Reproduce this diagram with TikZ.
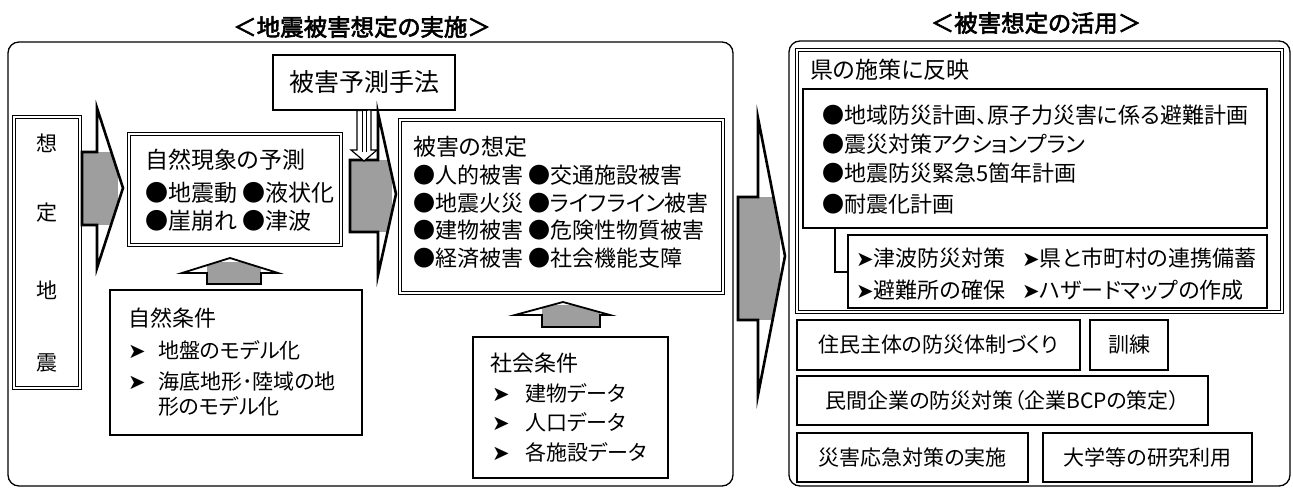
\documentclass[tikz,border=0pt]{standalone}
\usepackage{fontspec}
\setmainfont[RawFeature=+palt]{Noto Sans CJK JP}
\newfontfamily\jpbold[FakeBold=2.5,RawFeature=+palt]{Noto Sans CJK JP}
\newfontfamily\symfont{DejaVu Sans}
\newcommand{\arr}{{\symfont\fontsize{21}{21}\selectfont ➤}}
\tikzset{
  frame/.style={draw, line width=1.3pt, rounded corners=11pt, inner sep=0pt},
  box/.style={draw, line width=1.3pt, inner sep=0pt, fill=white},
  dbox/.style={draw, line width=1pt, double, double distance=2.6pt, inner sep=0pt},
  txt/.style={anchor=west, inner sep=0pt},
  title/.style={inner sep=0pt, font=\jpbold\fontsize{23.5}{27}\selectfont},
  fa/.style={font=\fontsize{23}{27}\selectfont},
  fh/.style={font=\fontsize{22}{26}\selectfont},
  fb/.style={font=\fontsize{22}{26}\selectfont},
  fc/.style={font=\fontsize{21}{25}\selectfont},
  fd/.style={font=\fontsize{21}{24}\selectfont},
  barrow/.style={draw, line width=2.6pt, line join=miter, miter limit=20},
  shade/.style={fill=black!38},
}
\begin{document}
\begin{tikzpicture}[x=1pt,y=-1pt]
\useasboundingbox (0,0) rectangle (1293,489);
\fill[white] (0,0) rectangle (1293,489);

% ---------- titles ----------
\node[title] (t1) at (362,27) {＜地震被害想定の実施＞};
\node[title] (t2) at (1036,23) {＜被害想定の活用＞};

% ---------- left frame ----------
\node[frame, minimum width=725pt, minimum height=444pt] (leftframe) at (370.5,264) {};

% 想定地震
\node[dbox, minimum width=66pt, minimum height=271pt] (soutei) at (47,252.5) {};
\node[fc, inner sep=0pt] (c1) at (47,143) {想};
\node[fc, inner sep=0pt] (c2) at (47,213) {定};
\node[fc, inner sep=0pt] (c3) at (47,290) {地};
\node[fc, inner sep=0pt] (c4) at (47,363) {震};

% 被害予測手法
\node[box, minimum width=182pt, minimum height=55pt, font=\fontsize{25}{29}\selectfont] (method) at (364,82.5) {被害予測手法};

% 自然現象の予測
\node[dbox, minimum width=212pt, minimum height=111pt] (shizen) at (235,189.5) {};
\node[fa,txt] (s1) at (145,160) {自然現象の予測};
\node[fa,txt] (s2) at (145,193) {●地震動 ●液状化};
\node[fa,txt] (s3) at (145,221) {●崖崩れ ●津波};

% 被害の想定
\node[dbox, minimum width=323pt, minimum height=173pt] (higai) at (561.5,206.5) {};
\node[fa,txt] (h0) at (413,147) {被害の想定};
\node[fh,txt] (h1) at (413,175) {●人的被害 ●交通施設被害};
\node[fh,txt] (h2) at (413,203) {●地震火災 ●ライフライン被害};
\node[fh,txt] (h3) at (413,230) {●建物被害 ●危険性物質被害};
\node[fh,txt] (h4) at (413,258) {●経済被害 ●社会機能支障};

% 自然条件
\node[box, minimum width=252pt, minimum height=145pt] (joken) at (236,362.5) {};
\node[fb,txt] (j0) at (128,318) {自然条件};
\node[fc,txt] (j1) at (128,350) {\makebox[30pt][l]{\arr}地盤のモデル化};
\node[fc,txt] (j2) at (128,382) {\makebox[30pt][l]{\arr}海底地形･陸域の地};
\node[fc,txt] (j3) at (158,406) {形のモデル化};

% 社会条件
\node[box, minimum width=195pt, minimum height=141pt] (shakai) at (570.5,407.5) {};
\node[fb,txt] (k0) at (490,363) {社会条件};
\node[fc,txt] (k1) at (492,393) {\makebox[33pt][l]{\arr}建物データ};
\node[fc,txt] (k2) at (492,422) {\makebox[33pt][l]{\arr}人口データ};
\node[fc,txt] (k3) at (492,452) {\makebox[33pt][l]{\arr}各施設データ};

% ---------- block arrows ----------
\def\pathA{(82,152)--(97,152)--(97,108)--(123,188)--(97,268)--(97,225)--(82,225)--cycle}
\fill[white] \pathA;
\begin{scope}\clip \pathA; \fill[shade] (82,152) rectangle (118,225); \end{scope}
\draw[barrow] \pathA;

\def\pathB{(350,160)--(378,160)--(378,113)--(396,194)--(378,275)--(378,232)--(350,232)--cycle}
\fill[white] \pathB;
\begin{scope}\clip \pathB; \fill[shade] (350,160) rectangle (392,232); \end{scope}
\draw[barrow] \pathB;

\def\pathC{(738,197)--(758,197)--(758,118)--(785,256)--(758,395)--(758,320)--(738,320)--cycle}
\fill[white] \pathC;
\begin{scope}\clip \pathC; \fill[shade] (738,197) rectangle (780,320); \end{scope}
\draw[barrow] \pathC;

\def\pathD{(207,284)--(207,273)--(182,273)--(230,258)--(278,273)--(261,273)--(261,284)--cycle}
\fill[white] \pathD;
\begin{scope}\clip \pathD; \fill[shade] (207,262) rectangle (261,284); \end{scope}
\draw[barrow, line width=1.8pt] \pathD;

\def\pathE{(542,327)--(542,315)--(515,315)--(563,302)--(610,315)--(600,315)--(600,327)--cycle}
\fill[white] \pathE;
\begin{scope}\clip \pathE; \fill[shade] (542,305) rectangle (600,327); \end{scope}
\draw[barrow, line width=1.8pt] \pathE;

% hollow down arrow from 被害予測手法
\draw[line width=1.2pt, fill=white] (method.south -| 357,0)--(371,110)--(371,150)--(377,150)--(364,161)--(351,150)--(357,150)--cycle;
\draw[line width=1pt] (362,110)--(362,152) (366,110)--(366,152);

% ---------- right frame ----------
\node[frame, minimum width=501pt, minimum height=445pt] (rightframe) at (1039.5,263.5) {};
\node[dbox, minimum width=485pt, minimum height=262pt] (ken) at (1039.5,181) {};
\node[fa,txt] (r0) at (810,70) {県の施策に反映};
\node[box, minimum width=464pt, minimum height=139pt] (bul) at (1035,158.5) {};
\node[fb,txt] (b1) at (822,115) {●地域防災計画、原子力災害に係る避難計画};
\node[fb,txt] (b2) at (822,144) {●震災対策アクションプラン};
\node[fb,txt] (b3) at (822,173) {●地震防災緊急5箇年計画};
\node[fb,txt] (b4) at (822,204) {●耐震化計画};

\node[box, minimum width=419pt, minimum height=73pt] (sub) at (1057.5,271.5) {};
\node[fb,txt] (u1) at (856,258) {\arr 津波防災対策};
\node[fb,txt] (u2) at (1022,258) {\arr 県と市町村の連携備蓄};
\node[fb,txt] (u3) at (856,290) {\arr 避難所の確保};
\node[fb,txt] (u4) at (1022,290) {\arr ハザードマップの作成};

\coordinate (brk) at (835,272);
\draw[line width=1.3pt] (bul.south -| brk) -- (brk) -- (sub.west |- brk);

\node[box, fd, minimum width=283pt, minimum height=50pt] (jumin) at (938.5,345) {住民主体の防災体制づくり};
\node[box, fd, minimum width=78pt, minimum height=50pt] (kunren) at (1129,345) {訓練};
\node[box, fd, minimum width=411pt, minimum height=49pt] (minkan) at (1002.5,400.5) {民間企業の防災対策（企業BCPの策定）};
\node[box, fd, minimum width=231pt, minimum height=49pt] (saigai) at (912.5,457.5) {災害応急対策の実施};
\node[box, fd, minimum width=209pt, minimum height=49pt] (daigaku) at (1147.5,457.5) {大学等の研究利用};
\end{tikzpicture}
\end{document}
